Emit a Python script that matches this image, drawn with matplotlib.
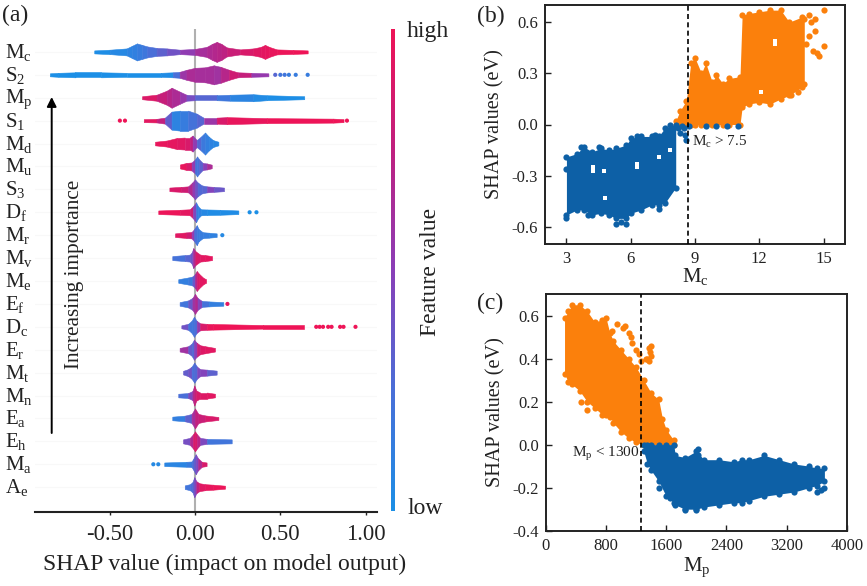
import matplotlib
matplotlib.use("Agg")
import matplotlib.pyplot as plt
from matplotlib.colors import LinearSegmentedColormap
from matplotlib.transforms import ScaledTranslation
import numpy as np

plt.rcParams['font.family'] = ['Liberation Serif', 'DejaVu Serif']
plt.rcParams['mathtext.fontset'] = 'custom'
plt.rcParams['mathtext.rm'] = 'Liberation Serif'
plt.rcParams['mathtext.it'] = 'Liberation Serif:italic'
plt.rcParams['mathtext.bf'] = 'Liberation Serif:bold'

W, H = 867, 586

# ---------- panel (a): beeswarm outlines ----------
# each feature: SHAP positions, half height of swarm (px), mean feature value (0-1)
features = ['M_c', 'S_2', 'M_p', 'S_1', 'M_d', 'M_u', 'S_3', 'D_f', 'M_r', 'M_v',
            'M_e', 'E_f', 'D_c', 'E_r', 'M_t', 'M_n', 'E_a', 'E_h', 'M_a', 'A_e']
shap_x = {
    'M_c': [-.59, -.50, -.40, -.37, -.34, -.31, -.28, -.225, -.166, -.088, 0, .068, .10, .127, .155, .186, .264, .342, .385, .41, .435, .479, .576, .66],
    'S_2': [-.85, -.80, -.70, -.55, -.40, -.20, -.13, -.09, -.05, 0, .06, .11, .15, .20, .25, .33, .43],
    'M_p': [-.31, -.225, -.166, -.137, -.088, -.05, 0, .127, .205, .342, .42, .64],
    'S_1': [-.30, -.225, -.176, -.137, -.088, -.04, .01, .05, .127, .186, .42, .81, .87],
    'M_d': [-.234, -.166, -.107, -.06, -.03, -.014, .01, .035, .059, .08, .105, .137],
    'M_u': [-.088, -.05, -.02, 0, .012, .025, .045, .07, .098],
    'S_3': [-.15, -.08, -.04, -.015, 0, .015, .04, .07, .11, .17],
    'D_f': [-.215, -.088, -.03, -.012, .006, .018, .035, .07, .146, .254],
    'M_r': [-.117, -.05, -.02, -.005, .01, .022, .045, .08, .127],
    'M_v': [-.133, -.06, -.03, -.018, -.01, .002, .03, .06, .10],
    'M_e': [-.098, -.04, -.015, 0, .01, .025, .05, .065],
    'E_f': [-.09, -.04, -.015, 0, .015, .04, .08, .166],
    'D_c': [-.08, -.04, -.02, -.006, .01, .03, .07, .107, .40, .64],
    'E_r': [-.09, -.04, -.02, -.006, .01, .03, .06, .117],
    'M_t': [-.07, -.04, -.02, -.004, .012, .03, .07, .127],
    'M_n': [-.098, -.04, -.015, -.004, .008, .03, .07, .117],
    'E_a': [-.133, -.06, -.02, 0, .02, .06, .137],
    'E_h': [-.07, -.03, -.012, 0, .012, .03, .07, .215],
    'M_a': [-.18, -.05, -.02, -.008, .004, .018, .04, .068],
    'A_e': [-.06, -.03, -.015, -.004, .008, .025, .06, .107, .176],
}
shap_h = {
    'M_c': [1.5, 2.2, 3.5, 6, 8.5, 7, 5.5, 4, 3.5, 2.2, 3, 5, 8, 10, 8, 4.5, 2.5, 3.5, 5, 7, 5, 2.5, 2, 1.5],
    'S_2': [1.5, 2, 2.5, 2.5, 2, 2, 2.5, 3, 5, 7, 7.5, 9.5, 8, 5, 2.5, 2, 1.5],
    'M_p': [1.5, 3, 7, 10, 6, 3, 2.5, 2.5, 3, 3.5, 2.5, 1.5],
    'S_1': [1.5, 1.8, 3, 9, 10, 10, 7, 3, 3, 3.5, 2.5, 2, 1.5],
    'M_d': [1.8, 3, 5.5, 6, 6, 8, 3.5, 7, 11, 7, 3.5, 1.8],
    'M_u': [2, 3.5, 4, 7, 10, 7, 3.5, 3, 1.8],
    'S_3': [1.8, 2.5, 3, 7, 10, 7, 4, 3, 2.5, 1.8],
    'D_f': [1.8, 2.5, 3, 6, 10, 6, 3, 2.8, 2.5, 1.8],
    'M_r': [1.8, 2.8, 3.2, 6, 10, 6, 3, 2.5, 1.8],
    'M_v': [2, 3, 3.5, 6, 10, 7, 3.5, 3, 2],
    'M_e': [1.8, 3.5, 4.5, 7, 10, 7, 3, 1.8],
    'E_f': [1.8, 3.5, 6, 10, 6, 3, 2.5, 1.8],
    'D_c': [1.5, 3, 6, 10, 6, 3.5, 3, 2.8, 1.8, 1.8],
    'E_r': [1.8, 3.5, 6, 10, 7, 4.5, 3.5, 1.8],
    'M_t': [1.8, 3.5, 6, 10, 6, 3.5, 3, 2],
    'M_n': [1.8, 2.5, 4.5, 10, 5, 3, 3, 1.8],
    'E_a': [1.8, 2.8, 4.5, 10, 4.5, 3, 1.5],
    'E_h': [2, 3.5, 7, 10, 7, 3.5, 2.5, 2],
    'M_a': [1.8, 2.5, 2.8, 6, 10, 6, 2.5, 1.8],
    'A_e': [1.8, 3, 5, 10, 6, 4, 3, 2.5, 1.5],
}
shap_c = {
    'M_c': [0, .03, .08, .1, .13, .17, .2, .3, .35, .45, .6, .65, .68, .7, .72, .75, .85, .9, .93, .95, .96, .97, 1, 1],
    'S_2': [0, 0, 0, 0, 0, 0, .05, .45, .7, .6, .65, .6, .6, .8, .85, .7, .4],
    'M_p': [.95, .85, .72, .7, .62, .5, .35, .25, .12, .05, .02, 0],
    'S_1': [.98, .9, .6, .08, .1, .2, .25, .35, .8, .95, .98, 1, 1],
    'M_d': [.98, .95, .95, .9, .85, .65, .4, .2, .15, .1, .08, .05],
    'M_u': [.98, .95, .8, .25, .2, .25, .4, .6, .7],
    'S_3': [.92, .85, .8, .55, .5, .3, .25, .35, .6, .15],
    'D_f': [1, .97, .92, .7, .2, .1, .08, .03, .02, .02],
    'M_r': [.95, .9, .75, .3, .2, .15, .15, .12, .1],
    'M_v': [.2, .25, .35, .4, .5, .85, .92, .95, .95],
    'M_e': [.1, .15, .2, .55, .8, .92, .95, .95],
    'E_f': [.15, .25, .5, .7, .65, .3, .15, .1],
    'D_c': [.6, .2, .2, .2, .3, .8, .95, 1, 1, 1],
    'E_r': [.8, .4, .3, .3, .7, .9, .92, .95],
    'M_t': [.2, .5, .3, .2, .35, .55, .4, .25],
    'M_n': [.2, .3, .6, .75, .85, .9, .92, .95],
    'E_a': [.1, .15, .5, .75, .75, .85, .9],
    'E_h': [.35, .5, .85, .9, .85, .6, .3, .1],
    'M_a': [.05, .1, .2, .3, .4, .5, .85, .9],
    'A_e': [.2, .2, .3, .35, .6, .9, .95, .97, 1],
}
# isolated dots beyond the swarm bodies
out_row = ['S_2'] * 6 + ['S_1'] * 3 + ['D_f'] * 2 + ['M_r'] + ['E_f'] + ['D_c'] * 8 + ['M_a'] * 2
out_x = [.47, .50, .525, .55, .59, .66, -.44, -.41, .89, .32, .36, .16, .19,
         .71, .73, .75, .78, .80, .85, .87, .94, -.244, -.215]
out_c = [.3, .2, .2, .15, .15, .15, 1, 1, 1, 0, 0, .05, .95, 1, 1, 1, 1, 1, 1, 1, 1, .05, .05]

tick_a = [-0.5, 0, 0.5, 1.0]
tick_a_lab = ['-0.50', '0.00', '0.50', '1.00']

# ---------- panel (b): envelopes of the point clouds ----------
b_blue_x = [3, 3.5, 3.8, 4.2, 4.6, 5, 5.3, 5.8, 6, 6.5, 7, 7.3, 7.6, 8.1]
b_blue_lo = [-.53, -.50, -.50, -.53, -.52, -.53, -.55, -.55, -.52, -.50, -.47, -.47, -.46, -.37]
b_blue_hi = [-.19, -.17, -.13, -.16, -.14, -.15, -.14, -.12, -.08, -.07, -.07, -.07, -.02, 0]
b_blue_px = [3, 8.3, 8.4, 8.5, 8.6, 8.7, 8.55, 8.2, 9.5, 10, 10.5, 11, 7.85, 3, 4, 5.3, 5.8, 5.55, 7.3, 3.7, 4.5, 6.3, 7.15]
b_blue_py = [-.26, -.05, -.01, -.02, -.09, -.01, -.06, -.02, -.01, -.01, -.01, -.01, -.005, -.55, -.53, -.585, -.585, -.57, -.495, -.13, -.13, -.07, -.06]
b_or_x = [8.1, 8.3, 8.6, 8.8, 9.0, 9.3, 9.5, 9.8, 10, 10.3, 10.6, 11.1, 11.2, 11.5, 12, 12.5, 13, 13.4, 14, 14.1]
b_or_lo = [0, 0, 0, 0, 0, 0, 0, 0, 0, 0, 0, 0, .10, .12, .13, .12, .15, .17, .22, .24]
b_or_hi = [.02, .08, .14, .36, .39, .30, .36, .25, .29, .24, .27, .28, .64, .65, .66, .67, .67, .60, .63, .62]
b_or_px = [14.3, 14.4, 14.6, 14.6, 15, 15, 14.5, 14.7, 14.8, 14.2, 13.8, 13.5, 14.3, 13.7]
b_or_py = [.64, .60, .62, .55, .67, .46, .43, .42, .40, .47, .19, .17, .52, .57]
b_gap_x = [4.25, 4.25, 4.75, 6.3, 6.3, 7.3, 7.85, 12.75, 12.75, 12.1, 4.8]
b_gap_y = [-.25, -.27, -.27, -.23, -.25, -.19, -.15, .49, .47, .19, -.43]
tick_b_x = [3, 6, 9, 12, 15]
tick_b_y = [-.6, -.3, 0, .3, .6]

# ---------- panel (c) ----------
c_or_x = [250, 300, 350, 450, 550, 650, 750, 800, 850, 900, 1000, 1100, 1200, 1300, 1400, 1500, 1550, 1600, 1700]
c_or_lo = [.33, .29, .28, .25, .20, .17, .14, .14, .13, .10, .06, .03, .01, 0, 0, 0, 0, 0, 0]
c_or_hi = [.59, .62, .65, .65, .62, .57, .58, .59, .52, .48, .44, .40, .36, .30, .24, .21, .12, .07, .02]
c_or_px = [880, 950, 1020, 1100, 1150, 1200, 1240, 1270, 1330, 1370, 1370, 1400, 1380, 1400, 1350, 470, 550, 1050, 1130]
c_or_py = [.53, .56, .54, .52, .47, .44, .42, .39, .40, .39, .45, .46, .43, .41, .40, .20, .16, .55, .50]
c_bl_x = [1300, 1350, 1400, 1500, 1600, 1700, 1720, 1850, 2000, 2100, 2300, 2500, 2600, 2700, 2900, 3100, 3300, 3500, 3600, 3700]
c_bl_lo = [-.03, -.09, -.12, -.17, -.24, -.27, -.28, -.30, -.30, -.29, -.28, -.27, -.27, -.26, -.24, -.23, -.22, -.20, -.19, -.17]
c_bl_hi = [0, 0, 0, 0, 0, 0, -.05, -.06, -.03, -.07, -.07, -.08, -.07, -.07, -.05, -.07, -.09, -.10, -.11, -.11]
c_bl_px = [2020, 2020, 3700, 3650, 3600, 1500, 1650, 1850, 2000]
c_bl_py = [-.02, -.05, -.20, -.21, -.22, -.20, -.25, -.305, -.305]
tick_c_x = [0, 800, 1600, 2400, 3200, 4000]
tick_c_y = [-.4, -.2, 0, .2, .4, .6]

BLUE = '#0d60a6'
ORANGE = '#fb800c'
DARK = '#222222'
cmap = LinearSegmentedColormap.from_list('shap', ['#1c8fe6', '#4a6fd8', '#8a3fb8', '#c0207f', '#ee1457'])


def add_axes_px(fig, l, t, r, b):
    return fig.add_axes([l / W, 1 - b / H, (r - l) / W, (b - t) / H])


def sub(name):
    a, b = name.split('_')
    return a + r'$_{\mathrm{' + b + '}}$'


fig = plt.figure(figsize=(W / 100, H / 100), dpi=100, facecolor='white')

# --- (a)
ax = add_axes_px(fig, 35, 29, 377, 511.7)
PX = 1 / 22.9
ax.set_xlim(-0.937, 1.066)
ax.set_ylim(20.07, -1.0)
ax.axvline(0, color='#b0b0b0', lw=1.5, zorder=1)
for i, f in enumerate(features):
    ax.axhline(i, color='#f8f8f8', lw=0.8, zorder=0)
    x, h, c = shap_x[f], np.array(shap_h[f]) * PX, shap_c[f]
    for j in range(len(x) - 1):
        col = cmap((c[j] + c[j + 1]) / 2)
        ax.fill_between(x[j:j + 2], i - h[j:j + 2], i + h[j:j + 2], color=col, lw=0.4, zorder=3)
ax.scatter(out_x, [features.index(r) for r in out_row], c=[cmap(float(v)) for v in out_c], s=9, lw=0, zorder=3)
for s in ['top', 'left', 'right']:
    ax.spines[s].set_visible(False)
ax.spines['bottom'].set_linewidth(1.5)
ax.spines['bottom'].set_color(DARK)
ax.set_xticks(tick_a)
ax.set_xticklabels(tick_a_lab, fontsize=16.3, color=DARK)
ax.tick_params(axis='x', length=2.5, width=1, pad=6, color=DARK)
ax.set_yticks(range(len(features)))
ax.set_yticklabels([sub(f) for f in features], fontsize=15, color=DARK)
ax.tick_params(axis='y', length=0, pad=21.5)
lift = ScaledTranslation(0, 2 / 100, fig.dpi_scale_trans)
for t in ax.get_yticklabels():
    t.set_horizontalalignment('left')
    t.set_transform(t.get_transform() + lift)
ax.set_xlabel('SHAP value (impact on model output)', fontsize=17, color=DARK, labelpad=7, x=0.553)
ax.patch.set_alpha(0)

# colour bar
cax = add_axes_px(fig, 391, 29, 395, 511)
cax.imshow(np.linspace(1, 0, 256)[:, None], aspect='auto', cmap=cmap)
cax.axis('off')

fig.text(407 / W, 1 - 32 / H, 'high', fontsize=17, color=DARK, va='center')
fig.text(407 / W, 1 - 509 / H, 'low', fontsize=17, color=DARK, va='center')
fig.text(430 / W, 1 - 272 / H, 'Feature value', fontsize=17, color=DARK, rotation=90, va='center', ha='center')
fig.text(75 / W, 1 - 274 / H, 'Increasing importance', fontsize=15.3, color=DARK, rotation=90, va='center', ha='center')
fig.text(2 / W, 1 - 15 / H, '(a)', fontsize=17, color=DARK, va='center')
fig.text(477 / W, 1 - 16 / H, '(b)', fontsize=17, color=DARK, va='center')
fig.text(477 / W, 1 - 303 / H, '(c)', fontsize=17, color=DARK, va='center')
fig.add_artist(matplotlib.patches.FancyArrowPatch(
    (51.7 / W, 1 - 433 / H), (51.7 / W, 1 - 97 / H), transform=fig.transFigure,
    arrowstyle='-|>', mutation_scale=14, color='black', lw=1.4, shrinkA=0, shrinkB=0))


def cloud(ax, x, lo, hi, px, py, col, z):
    ax.fill_between(x, lo, hi, color=col, lw=0, zorder=z)
    ax.scatter(list(x) + list(x) + list(px), list(lo) + list(hi) + list(py), s=20, color=col, lw=0, zorder=z)


def style(ax):
    for s in ax.spines.values():
        s.set_linewidth(1.4)
        s.set_color(DARK)
    ax.tick_params(direction='in', length=4, width=1, labelsize=12, colors=DARK, pad=5)


# --- (b)
bx = add_axes_px(fig, 545, 5, 845, 244)
bx.set_xlim(2, 16)
bx.set_ylim(-.7, .7)
cloud(bx, b_blue_x, b_blue_lo, b_blue_hi, b_blue_px, b_blue_py, BLUE, 3)
cloud(bx, b_or_x, b_or_lo, b_or_hi, b_or_px, b_or_py, ORANGE, 2)
bx.scatter(b_gap_x, b_gap_y, s=8, marker='s', color='white', lw=0, zorder=4)
bx.axvline(8.68, color='black', lw=1.2, ls=(0, (3, 2)), zorder=5)
bx.set_xticks(tick_b_x)
bx.set_yticks(tick_b_y)
bx.set_yticklabels(['-0.6', '-0.3', '0.0', '0.3', '0.6'])
style(bx)
bx.set_xlabel(r'M$_{\mathrm{c}}$', fontsize=15, color=DARK, labelpad=-1)
bx.set_ylabel('SHAP values (eV)', fontsize=14.6, color=DARK, labelpad=5)
bx.text(8.85, -.105, r'M$_{\mathrm{c}}$ > 7.5', fontsize=11, color=DARK, va='center', zorder=6)

# --- (c)
cx = add_axes_px(fig, 545.7, 294, 847, 530.7)
cx.set_xlim(0, 4000)
cx.set_ylim(-.4, .7)
cloud(cx, c_or_x, c_or_lo, c_or_hi, c_or_px, c_or_py, ORANGE, 2)
cloud(cx, c_bl_x, c_bl_lo, c_bl_hi, c_bl_px, c_bl_py, BLUE, 3)
cx.axvline(1265, color='black', lw=1.2, ls=(0, (3, 2)), zorder=5)
cx.set_xticks(tick_c_x)
cx.set_yticks(tick_c_y)
cx.set_yticklabels(['-0.4', '-0.2', '0.0', '0.2', '0.4', '0.6'])
style(cx)
cx.set_xlabel(r'M$_{\mathrm{p}}$', fontsize=15, color=DARK, labelpad=1)
cx.set_ylabel('SHAP values (eV)', fontsize=14.6, color=DARK, labelpad=5)
cx.text(1250, -.045, r'M$_{\mathrm{p}}$ < 1300', fontsize=11, color=DARK, va='center', ha='right', zorder=6)

fig.savefig('out.png', dpi=100)
